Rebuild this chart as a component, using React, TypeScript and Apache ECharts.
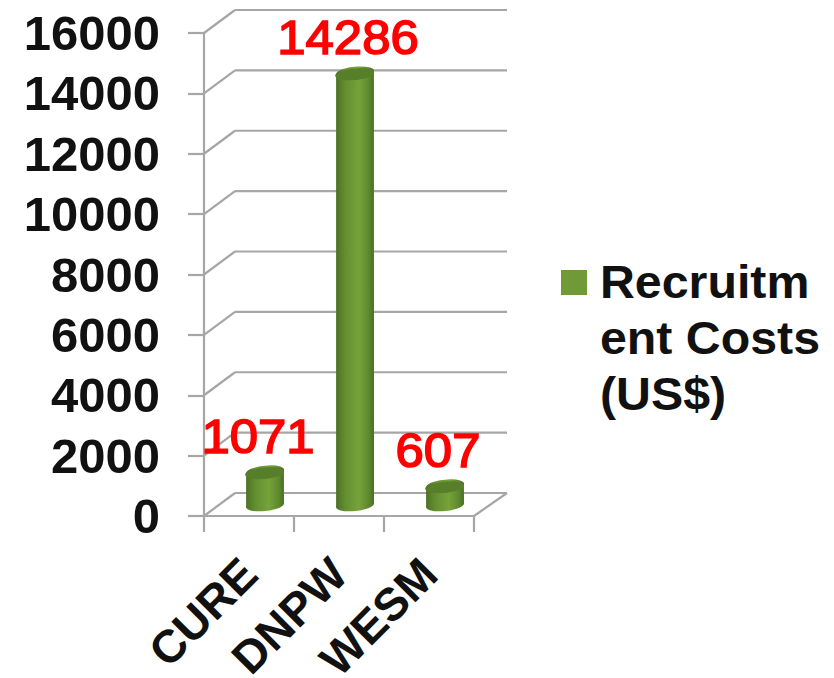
import React, { useEffect, useRef } from "react";
import * as echarts from "echarts";

const categories = ["CURE", "DNPW", "WESM"];
const values = [1071, 14286, 607];
const yTicks = [0, 2000, 4000, 6000, 8000, 10000, 12000, 14000, 16000];
const seriesName = "Recruitment Costs (US$)";
const legendLines = ["Recruitm", "ent Costs", "(US$)"];

const FONT = '"Liberation Sans", Arial, sans-serif';
const GRID = "#a6a6a6";
const DX = 31;
const DY = -23;

function renderGrid(params: any, api: any) {
  const v = api.value(1);
  const cs = params.coordSys;
  const y = api.coord([0, v])[1];
  const left = cs.x;
  const right = cs.x + cs.width;
  const lineStyle = { stroke: GRID, lineWidth: 2.2, fill: "none" };
  const children: any[] = [
    { type: "line", shape: { x1: left, y1: y, x2: left + DX, y2: y + DY }, style: lineStyle },
    { type: "line", shape: { x1: left + DX, y1: y + DY, x2: right + DX + 2, y2: y + DY }, style: lineStyle },
  ];
  if (v === 0) {
    children.push({ type: "line", shape: { x1: right, y1: y, x2: right + DX + 2, y2: y + DY }, style: lineStyle });
  }
  return { type: "group", children };
}

function renderCylinder(params: any, api: any) {
  const p = api.coord([api.value(0), api.value(1)]);
  const base = api.coord([api.value(0), 0]);
  const cx = p[0] + 16;
  const topY = p[1] - 11;
  const baseY = base[1] - 12;
  const rx = 19;
  const ry = 6;
  const deg = -6;
  const tilt = (deg * Math.PI) / 180;
  const ox = rx * Math.cos(tilt);
  const oy = rx * Math.sin(tilt);
  const body =
    `M ${cx - ox} ${topY - oy} L ${cx - ox} ${baseY - oy} ` +
    `A ${rx} ${ry} ${deg} 0 0 ${cx + ox} ${baseY + oy} ` +
    `L ${cx + ox} ${topY + oy} ` +
    `A ${rx} ${ry} ${deg} 0 0 ${cx - ox} ${topY - oy} Z`;
  const top =
    `M ${cx - ox} ${topY - oy} A ${rx} ${ry} ${deg} 0 1 ${cx + ox} ${topY + oy} ` +
    `A ${rx} ${ry} ${deg} 0 1 ${cx - ox} ${topY - oy} Z`;
  const bodyFill = new echarts.graphic.LinearGradient(0, 0, 1, 0, [
    { offset: 0, color: "#4b7125" },
    { offset: 0.25, color: "#648f31" },
    { offset: 0.6, color: "#76a23a" },
    { offset: 0.85, color: "#5f8a2e" },
    { offset: 1, color: "#4a6e24" },
  ]);
  return {
    type: "group",
    children: [
      { type: "path", shape: { pathData: body }, style: { fill: bodyFill } },
      { type: "path", shape: { pathData: top }, style: { fill: "#577f2a" } },
      {
        type: "text",
        x: p[0] + 9,
        y: p[1] - 24,
        scaleX: 1.06,
        style: {
          text: String(api.value(1)),
          fontFamily: FONT,
          fontSize: 48,
          fontWeight: "normal",
          fill: "#ff0000",
          stroke: "#ff0000",
          lineWidth: 1.6,
          textAlign: "center",
          textVerticalAlign: "bottom",
        },
      },
    ],
  };
}

export default function App() {
  const ref = useRef<HTMLDivElement>(null);
  useEffect(() => {
    const chart = echarts.init(ref.current!, undefined, { renderer: "svg" });
    chart.setOption({
      animation: false,
      backgroundColor: "#fff",
      grid: { left: 204, top: 33, width: 270, height: 483, containLabel: false, outerBoundsMode: "none" },
      xAxis: {
        type: "category",
        data: categories,
        axisLine: { lineStyle: { color: GRID, width: 2.2 } },
        axisTick: { show: true, length: 16, alignWithLabel: false, lineStyle: { color: GRID, width: 2.2 } },
        axisLabel: {
          show: true,
          interval: 0,
          rotate: 45,
          align: "right",
          verticalAlign: "middle",
          margin: 50,
          fontFamily: FONT,
          fontSize: 46,
          fontWeight: "bold",
          color: "#111",
        },
        splitLine: { show: false },
      },
      yAxis: {
        type: "value",
        min: 0,
        max: 16000,
        interval: 2000,
        axisLine: { show: true, lineStyle: { color: GRID, width: 2.2 } },
        axisTick: { show: true, length: 16, lineStyle: { color: GRID, width: 2.2 } },
        axisLabel: {
          show: true,
          margin: 44,
          fontFamily: FONT,
          fontSize: 49,
          fontWeight: "bold",
          color: "#111",
          formatter: (v: number) => String(v),
        },
        splitLine: { show: false },
      },
      series: [
        {
          type: "custom",
          name: "grid",
          z: 1,
          clip: false,
          silent: true,
          renderItem: renderGrid,
          data: yTicks.map((t) => [0, t]),
          encode: { x: 0, y: 1 },
        },
        {
          type: "custom",
          name: seriesName,
          z: 3,
          clip: false,
          renderItem: renderCylinder,
          data: values.map((v, i) => [i, v]),
          encode: { x: 0, y: 1 },
        },
      ],
      graphic: [
        { type: "rect", shape: { x: 561, y: 270, width: 26, height: 25 }, style: { fill: "#6f9a37" } },
        {
          type: "text",
          x: 600,
          y: 254,
          scaleX: 1.05,
          style: {
            text: legendLines.join("\n"),
            fontFamily: FONT,
            fontSize: 46,
            fontWeight: "bold",
            lineHeight: 56,
            fill: "#111",
            textAlign: "left",
            textVerticalAlign: "top",
          },
        },
      ],
    });
    return () => chart.dispose();
  }, []);
  return <div ref={ref} style={{ position: "absolute", left: 0, top: 0, width: 834, height: 678 }} />;
}
